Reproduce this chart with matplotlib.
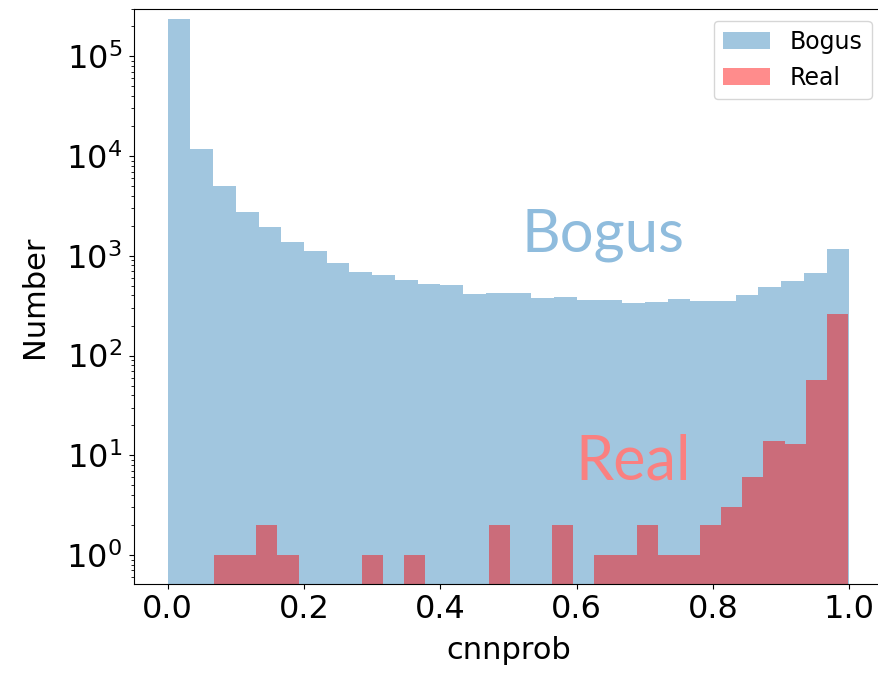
import numpy as np
import matplotlib
matplotlib.use("Agg")
import matplotlib.pyplot as plt

# counts per bin (30 bins each)
bogus_counts = [235000, 11800, 5000, 2770, 1950, 1380, 1120, 850, 690, 640,
                575, 522, 505, 410, 423, 423, 380, 388, 357, 357,
                335, 348, 370, 355, 355, 407, 487, 555, 670, 1170]
real_counts = [1, 1, 2, 1, 0, 0, 0, 1, 0, 1,
               0, 0, 0, 2, 0, 0, 2, 0, 1, 1,
               2, 1, 1, 2, 3, 6, 14, 13, 57, 261]

bogus_range = (0.0, 1.0)
real_range = (0.068, 0.998)
xticks = [0.0, 0.2, 0.4, 0.6, 0.8, 1.0]

bogus_edges = np.linspace(bogus_range[0], bogus_range[1], len(bogus_counts) + 1)
real_edges = np.linspace(real_range[0], real_range[1], len(real_counts) + 1)

fig = plt.figure(figsize=(8.79, 6.73), dpi=100)
ax = fig.add_axes([0.152, 0.132, 0.853, 0.855])

ax.hist(bogus_edges[:-1], bins=bogus_edges, weights=bogus_counts, log=True,
        color="tab:blue", alpha=0.42, label="Bogus")
ax.hist(real_edges[:-1], bins=real_edges, weights=real_counts, log=True,
        color="red", alpha=0.45, label="Real")

ax.set_xlim(-0.05, 1.05)
ax.set_ylim(0.51, 3.0e5)
ax.set_xticks(xticks)
ax.set_xticklabels(["%.1f" % t for t in xticks])
ax.tick_params(labelsize=23)
ax.tick_params(axis="y", pad=5)
ax.set_xlabel("cnnprob", fontsize=22, labelpad=8)
ax.set_ylabel("Number", fontsize=22, labelpad=12)
# the original image is cut just before the right spine
ax.spines["right"].set_visible(False)

ax.legend(loc="upper right", fontsize=17)

ax.text(0.639, 1100, "Bogus", color="#8fbcdd", fontsize=43, family="Lato",
        ha="center", va="baseline")
ax.text(0.683, 5.66, "Real", color="#fa8080", fontsize=44, family="Lato",
        ha="center", va="baseline")

fig.savefig("out.png", dpi=100)
